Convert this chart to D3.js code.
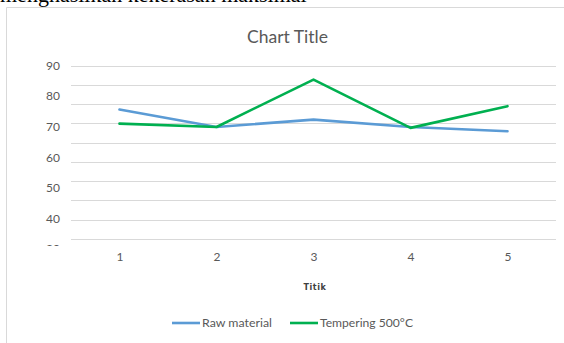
<!DOCTYPE html>
<html>
<head>
<meta charset="utf-8">
<script src="https://cdn.jsdelivr.net/npm/d3@7"></script>
<style>
  html, body { margin: 0; padding: 0; background: #fff; }
  svg { display: block; }
</style>
</head>
<body>
<svg id="chart" width="564" height="343"></svg>
<script>
// Hardness measured at five points
const categories = ["1", "2", "3", "4", "5"];
const rawMaterial = [75.6, 69.9, 72.3, 69.9, 68.5];
const tempering500 = [71.0, 69.9, 85.4, 69.6, 76.7];
const seriesNames = ["Raw material", "Tempering 500°C"];
const seriesColors = ["#5B9BD5", "#00B050"];
const yTickLabels = [90, 80, 70, 60, 50, 40, 30];
const gridSteps = d3.range(10);

const svg = d3.select("#chart");
const font = "Lato, 'Open Sans', sans-serif";

// caption line of the surrounding text, mostly above the frame
svg.append("text")
  .attr("x", 0).attr("y", 2)
  .attr("font-family", "'Liberation Serif', 'DejaVu Serif', serif")
  .attr("font-size", 22)
  .attr("fill", "#000")
  .text("menghasilkan kekerasan maksimal");

// chart frame (top and left edges visible)
svg.append("path")
  .attr("d", "M6.5,343 V7.5 H564")
  .attr("fill", "none")
  .attr("stroke", "#d9d9d9")
  .attr("stroke-width", 1);

svg.append("text")
  .attr("x", 287.5).attr("y", 42.5)
  .attr("text-anchor", "middle")
  .attr("font-family", font)
  .attr("font-size", 18)
  .attr("fill", "#595959")
  .attr("textLength", 81)
  .attr("lengthAdjust", "spacingAndGlyphs")
  .text("Chart Title");

const plot = { left: 71, right: 556 };

const x = d3.scalePoint()
  .domain(categories)
  .range([plot.left, plot.right])
  .padding(0.5);

const y = d3.scaleLinear().domain([30, 90]).range([249, 65.5]);
const yGrid = d3.scaleLinear().domain([0, 9]).range([239, 65.7]);

// horizontal gridlines
svg.append("g")
  .selectAll("line")
  .data(gridSteps)
  .join("line")
  .attr("x1", plot.left).attr("x2", plot.right)
  .attr("y1", d => Math.round(yGrid(d)) + 0.5)
  .attr("y2", d => Math.round(yGrid(d)) + 0.5)
  .attr("stroke", "#d9d9d9")
  .attr("stroke-width", 1);

// value axis labels, clipped at the bottom of the plot
svg.append("clipPath").attr("id", "yclip")
  .append("rect").attr("x", -60).attr("y", 40).attr("width", 70).attr("height", 206);

const yAxis = svg.append("g")
  .attr("clip-path", "url(#yclip)")
  .attr("transform", "translate(60,0)")
  .call(d3.axisLeft(y).tickValues(yTickLabels).tickSize(0).tickPadding(0));
yAxis.select(".domain").remove();
yAxis.selectAll("text")
  .attr("font-family", font)
  .attr("font-size", 12)
  .attr("fill", "#595959");

// category axis labels
const xAxis = svg.append("g")
  .attr("transform", "translate(0,252)")
  .call(d3.axisBottom(x).tickSize(0).tickPadding(0));
xAxis.select(".domain").remove();
xAxis.selectAll("text")
  .attr("dy", "0.71em")
  .attr("font-family", font)
  .attr("font-size", 12)
  .attr("fill", "#595959");

svg.append("text")
  .attr("x", 315).attr("y", 290)
  .attr("text-anchor", "middle")
  .attr("font-family", "'DejaVu Sans', sans-serif")
  .attr("font-size", 8)
  .attr("font-weight", "bold")
  .attr("fill", "#404040")
  .attr("letter-spacing", 0.6)
  .text("Titik");

// series lines
const line = d3.line()
  .x((d, i) => x(categories[i]))
  .y(d => y(d));

[rawMaterial, tempering500].forEach((vals, k) => {
  svg.append("path")
    .datum(vals)
    .attr("d", line)
    .attr("fill", "none")
    .attr("stroke", seriesColors[k])
    .attr("stroke-width", 2.6)
    .attr("stroke-linejoin", "round")
    .attr("stroke-linecap", "round");
});

// legend
const legendItems = [
  { name: seriesNames[0], color: seriesColors[0], x: 172, w: 70 },
  { name: seriesNames[1], color: seriesColors[1], x: 290, w: 93 }
];
const lg = svg.append("g").attr("transform", "translate(0,323)");
legendItems.forEach(it => {
  lg.append("line")
    .attr("x1", it.x).attr("x2", it.x + 28)
    .attr("y1", 0).attr("y2", 0)
    .attr("stroke", it.color)
    .attr("stroke-width", 2.6);
  lg.append("text")
    .attr("x", it.x + 30).attr("y", 4)
    .attr("font-family", font)
    .attr("font-size", 11)
    .attr("fill", "#595959")
    .attr("textLength", it.w)
    .attr("lengthAdjust", "spacingAndGlyphs")
    .text(it.name);
});
</script>
</body>
</html>
